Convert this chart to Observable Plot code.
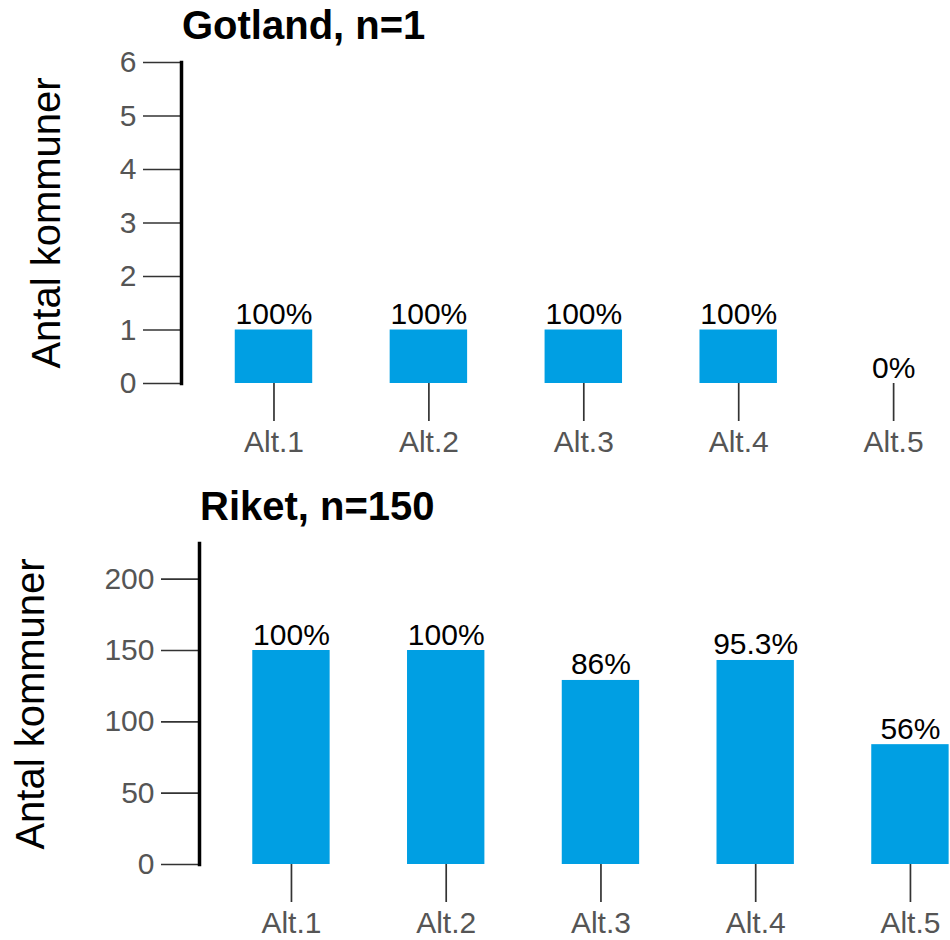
<!DOCTYPE html>
<html><head><meta charset="utf-8">
<script src="https://cdn.jsdelivr.net/npm/d3@7"></script>
<script src="https://cdn.jsdelivr.net/npm/@observablehq/plot@0.6"></script>
<style>
body{margin:0;background:#fff;}
#wrap{position:relative;width:950px;height:940px;font-family:"Liberation Sans",Arial,sans-serif;overflow:hidden;}
.title{position:absolute;font-weight:bold;font-size:40px;line-height:40px;color:#000;white-space:nowrap;}
.panel{position:absolute;left:0;}
</style></head><body>
<div id="wrap">
<div class="panel" id="p1" style="top:0"></div>
<div class="panel" id="p2" style="top:470px"></div>
<div class="title" style="left:182px;top:5px">Gotland, n=1</div>
<div class="title" style="left:200px;top:486px">Riket, n=150</div>
</div>
<script>
const alts = ["Alt.1", "Alt.2", "Alt.3", "Alt.4", "Alt.5"];
const gotlandCounts = [1, 1, 1, 1, 0];
const gotlandPct = ["100%", "100%", "100%", "100%", "0%"];
const riketCounts = [150, 150, 129, 143, 84];
const riketPct = ["100%", "100%", "86%", "95.3%", "56%"];
const gotlandTicks = [0, 1, 2, 3, 4, 5, 6];
const riketTicks = [0, 50, 100, 150, 200];
const yLabel = "Antal kommuner";

function panel({counts, pct, yMax, ticks, marginLeft, marginTop, marginBottom, xRange, labelDx}) {
  const data = alts.map((a, i) => ({alt: a, value: counts[i], pct: pct[i]}));
  return Plot.plot({
    width: 950,
    height: 470,
    marginLeft, marginRight: 0, marginTop, marginBottom,
    style: {fontFamily: '"Liberation Sans", Arial, sans-serif', background: "transparent", overflow: "visible"},
    x: {domain: alts, range: xRange, padding: 0.5, round: false, label: null},
    y: {domain: [0, yMax], label: null},
    marks: [
      Plot.barY(data, {x: "alt", y: "value", fill: "#009FE3"}),
      Plot.text(data, {x: "alt", y: "value", text: "pct", lineAnchor: "bottom", dy: -6, fontSize: 30, fill: "#000"}),
      Plot.axisY({ticks, tickFormat: d => String(d), tickSize: 38, tickPadding: 7, fontSize: 30, stroke: "#333", strokeWidth: 1.7, fill: "#555", label: null}),
      Plot.axisX({tickSize: 38, tickPadding: 9, fontSize: 30, stroke: "#333", strokeWidth: 1.7, fill: "#555", label: null}),
      Plot.frame({anchor: "left", stroke: "#000", strokeWidth: 3.5}),
      Plot.text([yLabel], {frameAnchor: "left", text: d => d, rotate: -90, dx: labelDx, lineAnchor: "bottom", textAnchor: "middle", fontSize: 40, fill: "#000"})
    ]
  });
}

document.getElementById("p1").appendChild(panel({
  counts: gotlandCounts, pct: gotlandPct, yMax: 6, ticks: gotlandTicks,
  marginLeft: 181, marginTop: 62, marginBottom: 87,
  xRange: [157.3, 1009.3], labelDx: -122
}));
document.getElementById("p2").appendChild(panel({
  counts: riketCounts, pct: riketPct, yMax: 225, ticks: riketTicks,
  marginLeft: 199, marginTop: 73, marginBottom: 76,
  xRange: [174.9, 1026], labelDx: -156
}));
</script>
</body></html>
